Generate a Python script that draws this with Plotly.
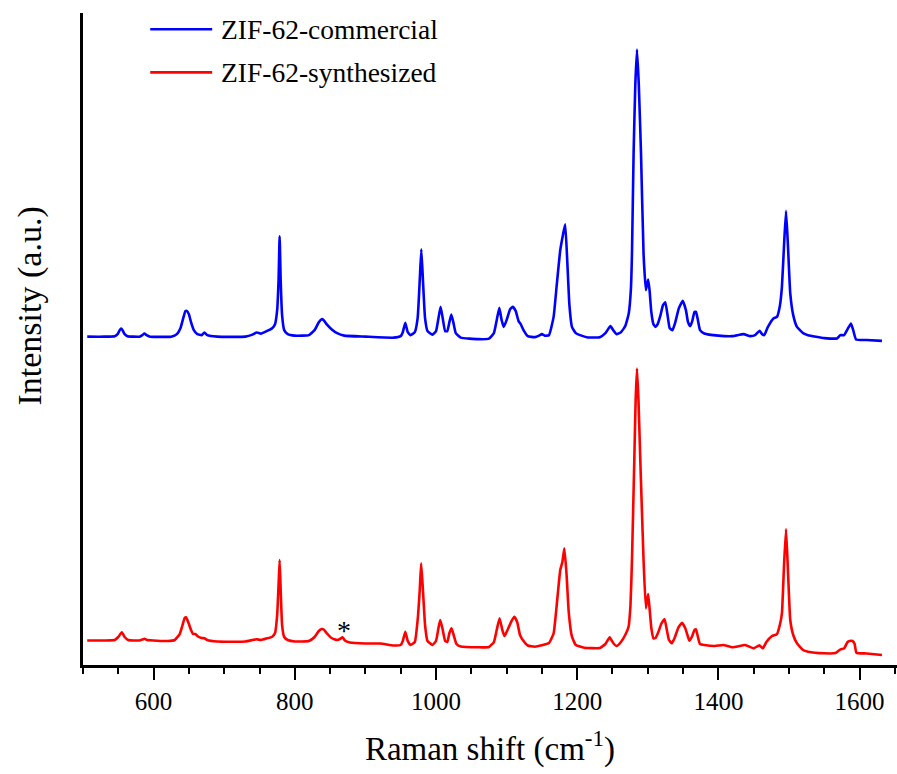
import plotly.graph_objects as go

# Raman shift (cm^-1) and intensity (a.u.) for each sample
shift_commercial = [
    506, 530, 545, 549, 552, 554, 556, 559, 563, 580, 584, 587, 590, 595, 625, 633, 638, 642,
    645, 647, 650, 653, 657, 662, 668, 672, 676, 690, 730, 740, 746, 752, 760, 768, 772, 775,
    777, 778.5, 780, 782, 785, 790, 800, 820, 828, 834, 838, 841, 845, 852, 860, 870, 900, 940,
    950, 953, 956.5, 960, 964, 970, 974, 977, 979.2, 981.5, 984.5, 988, 995, 1000, 1003.5,
    1006.5, 1009.5, 1013, 1016, 1019, 1021.7, 1024.5, 1028, 1035, 1060, 1075, 1082, 1086,
    1089.7, 1093, 1096, 1100, 1105, 1109, 1113, 1117, 1120, 1124, 1130, 1140, 1146, 1150,
    1154, 1160, 1166.6, 1171, 1176, 1180, 1183, 1186, 1189, 1192.6, 1198, 1204, 1215, 1232,
    1240, 1247, 1252, 1256, 1262, 1268, 1273, 1276, 1277.6, 1279.9, 1282.3, 1284.7, 1287.3,
    1290.4, 1294, 1297.3, 1300.5, 1302.5, 1305, 1308, 1311, 1314, 1318, 1321.5, 1324.8, 1328,
    1331, 1335, 1339, 1344, 1349.6, 1354, 1357, 1360, 1363, 1366, 1368.3, 1371, 1374, 1380,
    1400, 1420, 1435.6, 1445, 1452, 1458.4, 1462, 1465, 1470, 1478, 1483, 1487, 1490, 1493,
    1495.8, 1498.5, 1501.8, 1506, 1511.3, 1520, 1527, 1550, 1568, 1572.7, 1578, 1583, 1587.8,
    1591, 1595, 1610, 1631.7,
]
intensity_commercial = [
    28.5, 28.5, 29, 31, 35, 36.7, 35, 31, 29, 28.5, 30, 31.7, 30, 28.5, 28.5, 31, 37, 47,
    54, 54.3, 51, 43, 35, 31, 30, 32.7, 30, 28.5, 28.5, 30.5, 32.7, 31.5, 34, 37, 41, 55,
    85, 129, 85, 50, 35, 31, 29.5, 30, 35, 43, 46, 45, 41, 36, 32, 29.5, 28.5, 27.5,
    29, 33, 42.3, 33, 30, 33, 47, 85, 116, 85, 47, 34, 30.5, 34, 47,
    58.3, 47, 34, 34, 43, 50.7, 43, 32, 27.5, 26, 26.5, 32, 45,
    57.3, 45, 38.3, 45, 56, 58.3, 54, 44, 41, 35, 29, 28, 29.5, 31,
    29.5, 30, 48.3, 80, 115, 131, 141, 103, 60, 38.3, 32, 30, 27.7, 28,
    32, 39, 34, 31, 33, 39, 51.7, 75, 111.7, 211.7, 280, 315.7, 280,
    211.7, 111.7, 75, 85.7, 75, 53, 41, 38.3, 41, 50, 60, 63, 50,
    37, 35, 43, 57, 64.3, 55, 43, 39, 44, 53, 53.3, 45, 35, 31.7,
    29.5, 29, 31, 29, 30, 34.3, 31, 30, 38, 46.7, 48.3, 59, 78.3, 120,
    154.3, 120, 71.7, 50, 38.3, 32, 30, 27, 26.7, 30, 30, 36, 41.7,
    35, 25.7, 25.2, 24.3,
]

shift_synthesized = [
    506, 530, 545, 550, 555, 559, 564, 580, 584, 587, 591, 620, 630, 637, 641, 644, 646, 649,
    653, 656, 659, 663, 668, 672, 676, 690, 730, 740, 746, 752, 760, 768, 772, 775, 777,
    778.5, 780, 782, 785, 790, 800, 820, 828, 834, 838, 841, 845, 852, 860, 864, 867.7, 871,
    878, 900, 921, 940, 950, 953, 956.5, 960, 964, 970, 974, 977, 979, 981.5, 984.5, 988, 995,
    1000, 1003.5, 1006, 1009, 1013, 1016, 1019, 1022, 1025, 1029, 1035, 1060, 1075, 1082,
    1086, 1090, 1094, 1097, 1100, 1103, 1107, 1111, 1115, 1119, 1123, 1130, 1140, 1150, 1160,
    1166.6, 1171, 1176, 1179, 1181.8, 1185, 1188, 1192.6, 1198, 1210, 1232, 1240, 1246, 1251,
    1256, 1262, 1268, 1272.8, 1275.5, 1277.6, 1280.9, 1282.8, 1284.7, 1286.8, 1289.4, 1294,
    1297.3, 1300.5, 1302.5, 1305, 1308, 1311, 1315, 1319, 1323.8, 1327, 1330, 1334, 1338,
    1343, 1348.5, 1353, 1357, 1359, 1363, 1366, 1368.3, 1371, 1374, 1380, 1395, 1407, 1420,
    1438, 1450, 1458, 1463, 1468, 1476, 1483, 1487, 1490, 1493, 1495.8, 1498.5, 1501.8, 1506,
    1511.3, 1520, 1527, 1550, 1566, 1573, 1578, 1583, 1586, 1590, 1593, 1595.5, 1610, 1631.7,
]
intensity_synthesized = [
    24.5, 24.5, 25, 28, 32.7, 28, 25, 24.5, 25.5, 26.3, 25, 24, 25, 31, 40, 47, 47.7, 43,
    35, 31, 31, 28.5, 27, 26.7, 25, 23.5, 23.5, 25, 25.7, 25, 26.5, 28.3, 32, 50, 80,
    105, 75, 40, 28, 25, 23.5, 24, 28, 34, 36, 35.5, 32, 27, 25, 26, 27.7, 24.5,
    22.5, 21.5, 21.5, 19.5, 20, 24, 33.3, 24, 20, 23, 45, 75, 101.7, 75, 40, 24, 20,
    24, 37, 45, 37, 24, 23, 32, 36.7, 30, 21, 18.5, 17.7, 18, 23,
    35, 46.7, 35, 29, 33, 37.7, 44, 48.3, 43, 30, 25, 19.5, 18.3, 19.7, 22,
    31.7, 60, 95, 103, 116.7, 90, 53, 28.3, 20, 17.3, 17, 21, 27.7, 22,
    19, 23, 30, 38.3, 60, 105, 205, 265, 296.7, 265, 205, 105,
    56.7, 71, 57, 37, 26.7, 27, 33, 41, 45.8, 35, 25, 21.7, 27,
    37, 42.3, 37, 28, 24.3, 29, 35, 35.7, 28, 21, 20, 19, 20, 17.7,
    20, 16.7, 19.7, 16.7, 23, 29, 31, 40, 51.7, 100, 136, 95, 45, 30,
    21.7, 15, 13.3, 11.7, 12, 15.7, 16.5, 23, 24, 24, 21, 12.3, 11.5, 10,
]

# vertical stacking offset of the commercial spectrum
commercial_offset = 300

# impurity band flagged with an asterisk
marked_band = (870, 17)

series_names = ["ZIF-62-commercial", "ZIF-62-synthesized"]
series_colors = ["#0000ff", "#ff0000"]

FONT = "Liberation Serif"

fig = go.Figure()
fig.add_trace(go.Scatter(
    x=shift_commercial,
    y=[v + commercial_offset for v in intensity_commercial],
    mode="lines", name=series_names[0],
    line=dict(color=series_colors[0], width=2.6, shape="spline", smoothing=0.4),
    showlegend=False,
))
fig.add_trace(go.Scatter(
    x=shift_synthesized, y=intensity_synthesized,
    mode="lines", name=series_names[1],
    line=dict(color=series_colors[1], width=2.6, shape="spline", smoothing=0.4),
    showlegend=False,
))

# legend drawn as short line samples with labels
legend_rows = [0.975, 0.909]
for name, color, yy in zip(series_names, series_colors, legend_rows):
    fig.add_shape(type="line", xref="paper", yref="paper",
                  x0=0.0826, x1=0.1587, y0=yy, y1=yy,
                  line=dict(color=color, width=2.6))
    fig.add_annotation(xref="paper", yref="paper", x=0.1676, y=yy,
                       xanchor="left", yanchor="middle", showarrow=False,
                       text=name, font=dict(family=FONT, size=27.5, color="black"))

fig.add_annotation(x=marked_band[0], y=marked_band[1], text="*", showarrow=False,
                   xanchor="center", yanchor="bottom",
                   font=dict(family=FONT, size=28, color="black"))

# vertical axis label
fig.add_annotation(xref="paper", yref="paper", x=-0.065, y=0.55,
                   xanchor="center", yanchor="middle", textangle=-90, showarrow=False,
                   text="Intensity (a.u.)", font=dict(family=FONT, size=34, color="black"))

fig.update_layout(
    width=897, height=774,
    margin=dict(l=83, r=0, t=13, b=109),
    paper_bgcolor="white", plot_bgcolor="white",
    font=dict(family=FONT, color="black"),
    showlegend=False,
)
fig.update_xaxes(
    range=[500, 1653], showgrid=False, zeroline=False,
    showline=True, linecolor="black", linewidth=2.5,
    tickmode="linear", tick0=600, dtick=200,
    ticks="outside", ticklen=12, tickwidth=2, tickcolor="black",
    minor=dict(tick0=500, dtick=50, ticks="outside", ticklen=6, tickwidth=2, tickcolor="black"),
    tickfont=dict(family=FONT, size=25, color="black"),
    title=dict(text="Raman shift (cm<sup>-1</sup>)", font=dict(family=FONT, size=33, color="black"),
               standoff=24),
)
fig.update_yaxes(
    range=[0, 652.3], showgrid=False, zeroline=False,
    showline=True, linecolor="black", linewidth=2.5,
    ticks="", showticklabels=False,
)

fig.write_html("out.html")
